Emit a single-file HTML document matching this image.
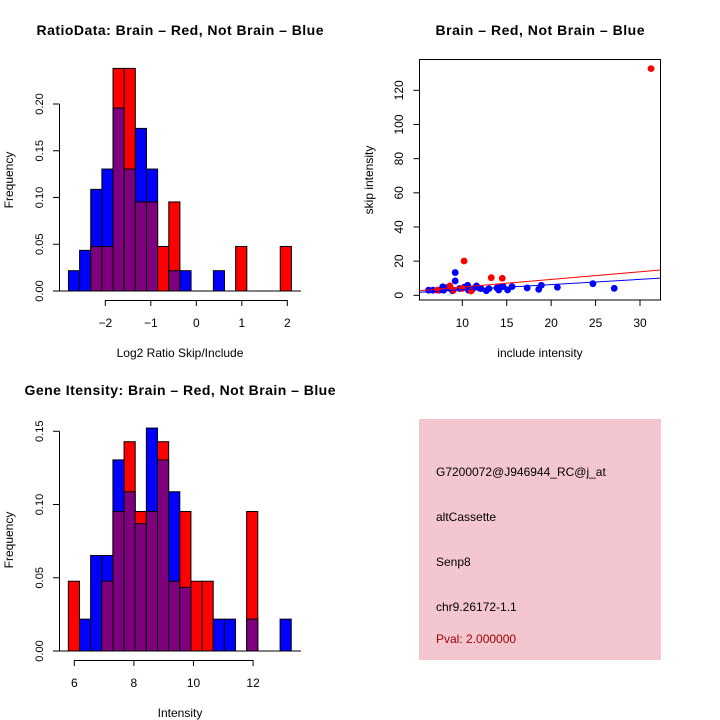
<!DOCTYPE html>
<html><head><meta charset="utf-8"><style>
body{margin:0;background:#fff;}
svg{display:block;font-family:"Liberation Sans",sans-serif;}
</style></head><body>
<svg id="c" width="720" height="720" viewBox="0 0 720 720">
<defs>
<pattern id="pk" width="2" height="2" patternUnits="userSpaceOnUse"><rect width="2" height="2" fill="#f3c3cd"/><rect width="1" height="1" fill="#f7d0d8"/></pattern>
</defs>
<text x="180" y="35" text-anchor="middle" font-weight="bold" font-size="14" textLength="287">RatioData: Brain – Red, Not Brain – Blue</text>
<text x="540" y="35" text-anchor="middle" font-weight="bold" font-size="14" textLength="209">Brain – Red, Not Brain – Blue</text>
<text x="180" y="395" text-anchor="middle" font-weight="bold" font-size="14" textLength="311">Gene Itensity: Brain – Red, Not Brain – Blue</text>
<text x="180" y="357" text-anchor="middle" font-size="12">Log2 Ratio Skip/Include</text>
<text transform="translate(13,180) rotate(-90)" text-anchor="middle" font-size="12">Frequency</text>
<text x="540" y="357" text-anchor="middle" font-size="12">include intensity</text>
<text transform="translate(373,180) rotate(-90)" text-anchor="middle" font-size="12">skip intensity</text>
<text x="180" y="717" text-anchor="middle" font-size="12">Intensity</text>
<text transform="translate(13,540) rotate(-90)" text-anchor="middle" font-size="12">Frequency</text>
<g>
<rect x="419" y="419" width="242" height="241" fill="url(#pk)"/>
<text x="436" y="476" font-size="12">G7200072@J946944_RC@j_at</text>
<text x="436" y="521" font-size="12">altCassette</text>
<text x="436" y="566" font-size="12">Senp8</text>
<text x="436" y="611" font-size="12">chr9.26172-1.1</text>
<text x="436" y="643" font-size="12" fill="#990000">Pval: 2.000000</text>
</g>
<g id="g1"></g><g id="g2"></g><g id="g3"></g>
</svg>
<script>
// Ratio histogram data (frequency)
const ratioBinStart = -2.81, ratioBinWidth = 0.245;
const ratioRed  = [0,0,1/21,1/21,5/21,5/21,2/21,2/21,1/21,2/21,0,0,0,0,0,1/21,0,0,0,1/21];
const ratioBlue = [1/46,2/46,5/46,6/46,9/46,6/46,8/46,6/46,0,1/46,1/46,0,0,1/46,0,0,0,0,0,0];
const ratioXTicks = [-2,-1,0,1,2];
const ratioYTicks = [0,0.05,0.10,0.15,0.20];
const ratioYLabels = ["0.00","0.05","0.10","0.15","0.20"];
// Intensity histogram data
const intBinStart = 5.8, intBinWidth = 0.374;
const intRed  = [1/21,0,0,1/21,2/21,3/21,2/21,2/21,3/21,1/21,2/21,1/21,1/21,0,0,0,2/21,0,0,0];
const intBlue = [0,1/46,3/46,3/46,6/46,5/46,4/46,7/46,6/46,5/46,2/46,0,0,1/46,1/46,0,1/46,0,0,1/46];
const intXTicks = [6,8,10,12];
const intYTicks = [0,0.05,0.10,0.15];
const intYLabels = ["0.00","0.05","0.10","0.15"];
// Scatter data
const redX = [31.24,10.2,13.26,14.5,8.6,9.0,11.0,10.0,7.2];
const redY = [132.7,20.1,10.3,10.0,5.5,3.0,2.5,4.0,3.0];
const blueX = [9.2,9.2,6.2,6.7,7.8,7.9,8.9,9.7,10.2,10.6,11.2,11.6,12.1,12.7,13.0,13.9,14.1,14.6,15.1,15.6,17.3,18.6,18.9,20.7,24.7,27.1,10.7,8.6,7.4,8.2,11.9,14.3];
const blueY = [13.3,8.4,3.0,3.0,5.0,3.0,2.7,4.0,4.7,5.9,3.9,5.5,3.9,2.7,3.9,4.3,3.1,5.1,3.1,5.1,4.3,3.5,5.9,4.7,6.8,4.1,3.0,4.1,3.0,4.5,4.2,4.8];
const fitIntercept = [0.37,0.17]; // red, blue
const fitSlope = [0.447,0.305];
const scXTicks = [10,15,20,25,30];
const scYTicks = [0,20,40,60,80,100,120];

const NS="http://www.w3.org/2000/svg";
function mk(par,tag,attrs){const e=document.createElementNS(NS,tag);for(const k in attrs)e.setAttribute(k,attrs[k]);par.appendChild(e);return e;}

function hist(g,name,start,w,red,blue,xs,ys,ylab,x0px,xScale,base,yScale,yTickTop,xAxisY){
  const X=v=>x0px+(v-start)*xScale, Y=v=>base-v*yScale;
  for(let i=0;i<red.length;i++){
    const l=X(start+i*w), r=X(start+(i+1)*w);
    const rv=red[i], bv=blue[i], mx=Math.max(rv,bv), mn=Math.min(rv,bv);
    if(mx>0){
      const b=mk(g,'rect',{x:l,y:Y(mx),width:r-l,height:mx*yScale,fill:rv>=bv?'#ff0000':'#0000ff',stroke:'#000','stroke-width':1});
      
      
    }
    if(mn>0){
      const p=mk(g,'rect',{x:l,y:Y(mn),width:r-l,height:mn*yScale,fill:'#7f007f',stroke:'#000','stroke-width':1});
      
      
    }
  }
  const bl=mk(g,'line',{x1:59,x2:301,y1:base,y2:base,stroke:'#000','stroke-width':1});
  
  
  const ya=mk(g,'line',{x1:59.5,x2:59.5,y1:base,y2:Y(ys[ys.length-1]),stroke:'#000'});
  
  
  ys.forEach((v,i)=>{
    mk(g,'line',{x1:53,x2:59.5,y1:Y(v),y2:Y(v),stroke:'#000'});
    const t=mk(g,'text',{transform:`translate(43,${Y(v)}) rotate(-90)`,'text-anchor':'middle','font-size':11});
    t.textContent=ylab[i];
    
    
  });
  const xv0=X(xs[0]), xv1=X(xs[xs.length-1]);
  const xa=mk(g,'line',{x1:xv0,x2:xv1,y1:xAxisY+0.5,y2:xAxisY+0.5,stroke:'#000'});
  
  
  xs.forEach(v=>{
    mk(g,'line',{x1:X(v),x2:X(v),y1:xAxisY,y2:xAxisY+6,stroke:'#000'});
    const t=mk(g,'text',{x:X(v),y:xAxisY+27,'text-anchor':'middle','font-size':12});
    t.textContent=v<0?'\u2212'+(-v):String(v);
    
    
  });
}
hist(document.getElementById('g1'),'ratio',ratioBinStart,ratioBinWidth,ratioRed,ratioBlue,ratioXTicks,ratioYTicks,ratioYLabels,196.3+ratioBinStart*45.5,45.5,291,935,0.2,300);
hist(document.getElementById('g2'),'intensity',intBinStart,intBinWidth,intRed,intBlue,intXTicks,intYTicks,intYLabels,74.3+(intBinStart-6)*29.8,29.8,651,1465,0.15,660);

(function(){
  const g=document.getElementById('g3');
  const X=v=>462.3+(v-10)*8.885, Y=v=>295.3-v*1.708;
  const L=419.5,R=660.5,T=59.5,B=300;
  mk(g,'clipPath',{id:'clp'}).appendChild(document.createElementNS(NS,'rect'));
  const cr=g.querySelector('#clp rect');cr.setAttribute('x',L);cr.setAttribute('y',T);cr.setAttribute('width',R-L);cr.setAttribute('height',B-T);
  const box=mk(g,'rect',{x:L,y:T,width:R-L,height:B-T,fill:'none',stroke:'#000'});
  
  
  scXTicks.forEach(v=>{
    mk(g,'line',{x1:X(v),x2:X(v),y1:B,y2:B+6,stroke:'#000'});
    const t=mk(g,'text',{x:X(v),y:B+27,'text-anchor':'middle','font-size':12});t.textContent=v;
    
    
  });
  scYTicks.forEach(v=>{
    mk(g,'line',{x1:L-6,x2:L,y1:Y(v),y2:Y(v),stroke:'#000'});
    const t=mk(g,'text',{transform:`translate(403,${Y(v)}) rotate(-90)`,'text-anchor':'middle','font-size':12});t.textContent=v;
    
    
  });
  const pts=mk(g,'g',{'clip-path':'url(#clp)'});
  const xmin=(L-462.3)/8.885+10, xmax=(R-462.3)/8.885+10;
  blueX.forEach((x,i)=>{
    const c=mk(pts,'circle',{cx:X(x),cy:Y(blueY[i]),r:3.4,fill:'#0000ff'});
    
    
  });
  redX.forEach((x,i)=>{
    const c=mk(pts,'circle',{cx:X(x),cy:Y(redY[i]),r:3.4,fill:'#ff0000'});
    
    
  });
  ['#ff0000','#0000ff'].forEach((col,k)=>{
    const ln=mk(pts,'line',{x1:L,x2:R,y1:Y(fitIntercept[k]+fitSlope[k]*xmin),y2:Y(fitIntercept[k]+fitSlope[k]*xmax),stroke:col,'stroke-width':1});
    
    
  });
})();
</script>
</body></html>
